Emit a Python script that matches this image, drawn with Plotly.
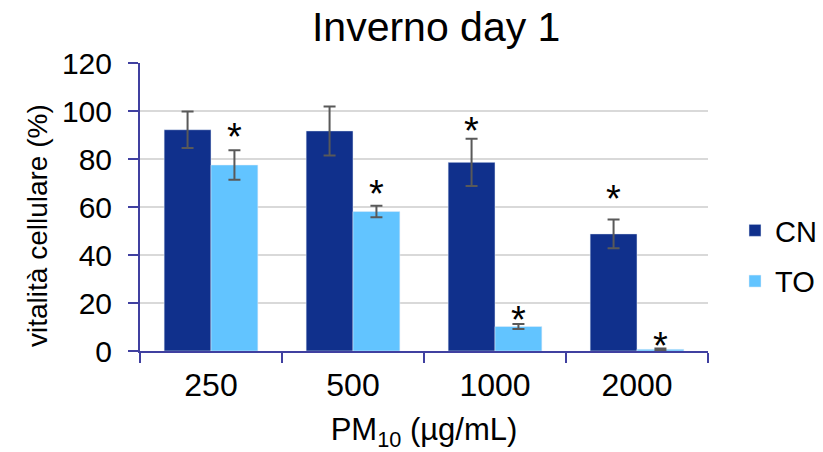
import plotly.graph_objects as go

categories = ["250", "500", "1000", "2000"]
cn_values = [92.2, 91.7, 78.6, 48.8]
cn_errors = [7.6, 10.2, 9.8, 6.0]
to_values = [77.5, 58.1, 10.2, 0.7]
to_errors = [6.1, 2.4, 1.0, 0.3]
# heights of significance asterisks (None = no asterisk)
cn_star_y = [None, None, 93.3, 64.9]
to_star_y = [91.0, 67.0, 14.5, 3.6]

FONT = "Arial, Liberation Sans, sans-serif"
AXIS_COLOR = "#4040A0"
CN_COLOR = "#10308C"
TO_COLOR = "#62C4FF"
ERR_COLOR = "#595959"

fig = go.Figure()
fig.add_trace(go.Bar(
    name="CN", x=categories, y=cn_values, marker_color=CN_COLOR,
    error_y=dict(type="data", array=cn_errors, color=ERR_COLOR, thickness=2, width=6),
    legendgroup="a",
))
fig.add_trace(go.Bar(
    name="TO", x=categories, y=to_values, marker_color=TO_COLOR,
    error_y=dict(type="data", array=to_errors, color=ERR_COLOR, thickness=2, width=6),
    legendgroup="b",
))

half_bar = 23.5
for stars, shift in ((cn_star_y, -half_bar), (to_star_y, half_bar)):
    for i, sy in enumerate(stars):
        if sy is None:
            continue
        fig.add_annotation(x=i, y=sy, xref="x", yref="y", text="*", showarrow=False,
                           xshift=shift, yshift=-4, yanchor="middle",
                           font=dict(family=FONT, size=38, color="black"))

fig.add_annotation(x=(37 - 140) / 568, y=(351 - 226) / 288, xref="paper", yref="paper",
                   text="vitalità cellulare (%)", xanchor="center", yanchor="middle",
                   showarrow=False, textangle=-90, font=dict(family=FONT, size=28, color="black"))

fig.update_layout(
    width=823, height=452,
    margin=dict(l=140, r=115, t=63, b=101, autoexpand=False),
    paper_bgcolor="white", plot_bgcolor="white",
    barmode="group", bargap=0.34, bargroupgap=0,
    font=dict(family=FONT, color="black"),
    title=dict(text="Inverno day 1", x=0.53, xanchor="center", y=1 - 27 / 452, yanchor="middle",
               yref="container", font=dict(family=FONT, size=41, color="black")),
    legend=dict(x=(735 - 140) / 568, xanchor="left", y=(351 - 256) / 288, yanchor="middle",
                font=dict(family=FONT, size=29),
                traceorder="grouped", tracegroupgap=10, bgcolor="rgba(0,0,0,0)"),
    xaxis=dict(type="category", range=[-0.5, 3.5], autorange=False, showline=True,
               linecolor=AXIS_COLOR, linewidth=2,
               ticks="outside", tickson="boundaries", ticklen=10, tickwidth=2, tickcolor=AXIS_COLOR,
               tickfont=dict(family=FONT, size=32, color="black"), showgrid=False, tickangle=0,
               ticklabelstandoff=5,
               title=dict(text="PM<sub>10</sub> (µg/mL)", font=dict(family=FONT, size=31), standoff=19)),
    yaxis=dict(range=[0, 120], autorange=False, dtick=20, showline=True, linecolor=AXIS_COLOR, linewidth=2,
               ticks="outside", ticklen=10, tickwidth=2, tickcolor=AXIS_COLOR,
               tickfont=dict(family=FONT, size=30, color="black"), ticklabelstandoff=10,
               showgrid=True, gridcolor="#D9D9D9", gridwidth=2, zeroline=False),
)

fig.write_html("out.html")
